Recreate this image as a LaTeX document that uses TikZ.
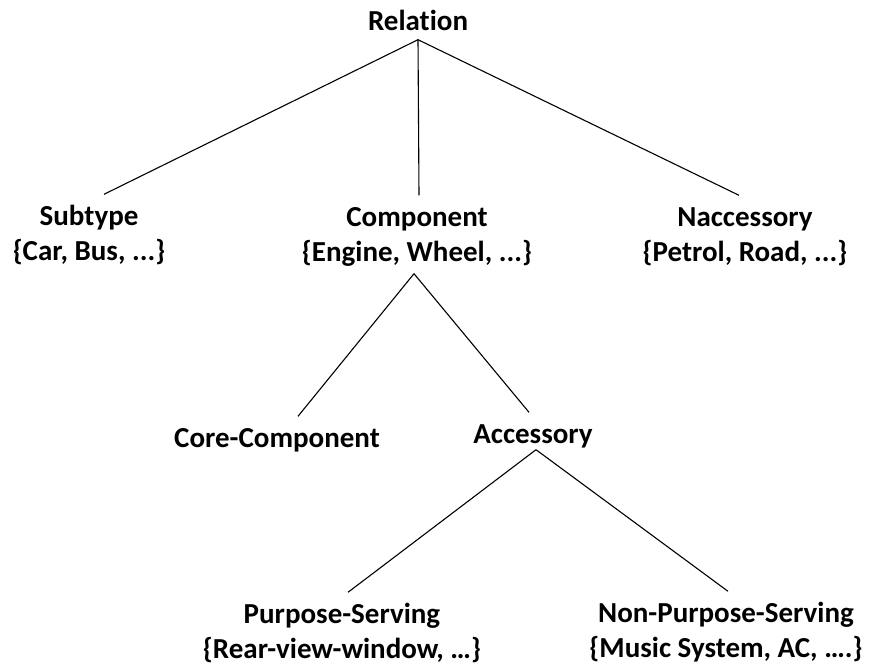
\documentclass[tikz,border=0pt]{standalone}
\usepackage{fontspec}
\setmainfont{Carlito}[Ligatures=NoCommon]
\begin{document}
\begin{tikzpicture}[x=1pt,y=-1pt,itm/.style={font=\fontsize{29}{35}\selectfont\bfseries,anchor=base,inner xsep=0pt,inner ysep=6pt},lnk/.style={line width=1.1pt}]
\useasboundingbox (0,0) rectangle (870,666);
\node[itm] (RL) at (418,31) {\begin{tabular}[t]{@{}c@{}}Relation\end{tabular}};
\node[itm] (ST) at (89,225) {\begin{tabular}[t]{@{}c@{}}Subtype\\\{Car, Bus, ...\}\end{tabular}};
\node[itm] (CP) at (417,226) {\begin{tabular}[t]{@{}c@{}}Component\\\{Engine, Wheel, ...\}\end{tabular}};
\node[itm] (NA) at (745,226) {\begin{tabular}[t]{@{}c@{}}Naccessory\\\{Petrol, Road, ...\}\end{tabular}};
\node[itm] (CC) at (277,447) {\begin{tabular}[t]{@{}c@{}}Core-Component\end{tabular}};
\node[itm] (AC) at (533,443) {\begin{tabular}[t]{@{}c@{}}Accessory\end{tabular}};
\node[itm] (PS) at (342,623) {\begin{tabular}[t]{@{}c@{}}Purpose-Serving\\\{Rear-view-window, \dots\}\end{tabular}};
\node[itm] (NP) at (726,622) {\begin{tabular}[t]{@{}c@{}}Non-Purpose-Serving\\\{Music System, AC, \dots.\}\end{tabular}};
\draw[lnk] ([yshift=8pt]RL.south) -- ([xshift=15pt]ST.north);
\draw[lnk] ([yshift=8pt]RL.south) -- ([xshift=2pt]CP.north);
\draw[lnk] ([yshift=8pt]RL.south) -- ([xshift=-6pt]NA.north);
\draw[lnk] ([xshift=-3pt,yshift=4pt]CP.south) -- ([xshift=21pt]CC.north);
\draw[lnk] ([xshift=-3pt,yshift=4pt]CP.south) -- ([xshift=-4pt]AC.north);
\draw[lnk] ([xshift=3pt,yshift=10pt]AC.south) -- ([xshift=6pt]PS.north);
\draw[lnk] ([xshift=3pt,yshift=10pt]AC.south) -- ([xshift=2pt]NP.north);
\end{tikzpicture}
\end{document}
